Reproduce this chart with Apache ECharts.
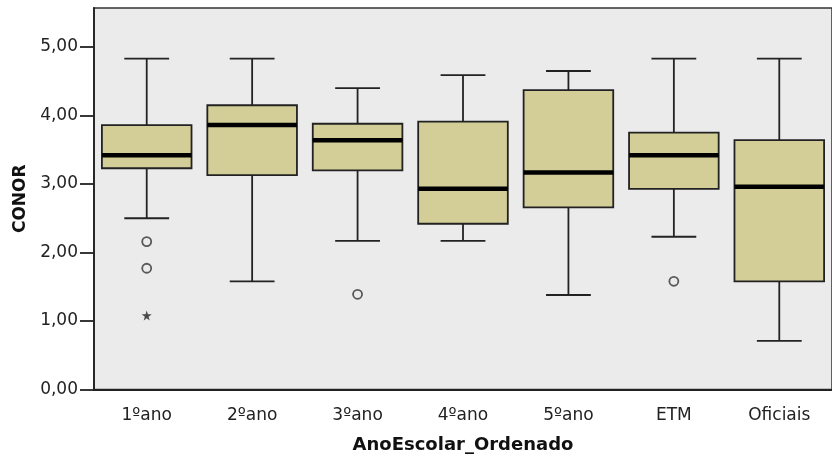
<!DOCTYPE html>
<html><head><meta charset="utf-8">
<script src="https://cdn.jsdelivr.net/npm/echarts@6/dist/echarts.min.js"></script>
<style>html,body{margin:0;padding:0;background:#fff}#c{width:832px;height:460px}</style>
</head><body><div id="c"></div>
<script>
const categories = ['1ºano','2ºano','3ºano','4ºano','5ºano','ETM','Oficiais'];
const lowerWhisker = [2.50, 1.58, 2.17, 2.17, 1.38, 2.23, 0.71];
const q1 =           [3.23, 3.13, 3.20, 2.42, 2.66, 2.93, 1.58];
const median =       [3.42, 3.86, 3.64, 2.93, 3.17, 3.42, 2.96];
const q3 =           [3.86, 4.15, 3.88, 3.91, 4.37, 3.75, 3.64];
const upperWhisker = [4.83, 4.83, 4.40, 4.59, 4.65, 4.83, 4.83];
const outliers = [[0, 2.16], [0, 1.77], [2, 1.39], [5, 1.58]];
const extremes = [[0, 1.08]];
const yTicks = [0, 1, 2, 3, 4, 5];

const boxData = categories.map((c, i) => [i, lowerWhisker[i], q1[i], median[i], q3[i], upperWhisker[i]]);

const LINE = '#222';
function renderBox(params, api) {
  const i = api.value(0);
  const band = api.size([1, 0])[0];
  const bw = band * 0.85, cw = bw * 0.5;
  const lo = api.coord([i, api.value(1)]);
  const b1 = api.coord([i, api.value(2)]);
  const md = api.coord([i, api.value(3)]);
  const b3 = api.coord([i, api.value(4)]);
  const hi = api.coord([i, api.value(5)]);
  const x = lo[0];
  const ls = {stroke: LINE, lineWidth: 1.8};
  return {type: 'group', children: [
    {type: 'line', shape: {x1: x, y1: hi[1], x2: x, y2: b3[1]}, style: ls},
    {type: 'line', shape: {x1: x, y1: b1[1], x2: x, y2: lo[1]}, style: ls},
    {type: 'line', shape: {x1: x - cw / 2, y1: hi[1], x2: x + cw / 2, y2: hi[1]}, style: ls},
    {type: 'line', shape: {x1: x - cw / 2, y1: lo[1], x2: x + cw / 2, y2: lo[1]}, style: ls},
    {type: 'rect', shape: {x: x - bw / 2, y: b3[1], width: bw, height: b1[1] - b3[1]},
      style: {fill: '#D3CE97', stroke: LINE, lineWidth: 1.8}},
    {type: 'line', shape: {x1: x - bw / 2, y1: md[1], x2: x + bw / 2, y2: md[1]},
      style: {stroke: '#000', lineWidth: 4.5}}
  ]};
}

const chart = echarts.init(document.getElementById('c'), null, {renderer: 'canvas'});
chart.setOption({
  animation: false,
  backgroundColor: '#fff',
  grid: {left: 94, top: 8, width: 744, height: 381.5, show: true,
    backgroundColor: '#EBEBEB', borderColor: '#333', borderWidth: 1.5},
  xAxis: {
    type: 'category', data: categories, boundaryGap: true,
    name: 'AnoEscolar_Ordenado', nameLocation: 'middle', nameGap: 47,
    nameTextStyle: {fontFamily: 'DejaVu Sans', fontWeight: 'bold', fontSize: 18, color: '#111'},
    axisLine: {lineStyle: {color: LINE, width: 1.8}},
    axisTick: {alignWithLabel: true, length: 11, lineStyle: {color: LINE, width: 1.8}},
    axisLabel: {fontFamily: 'DejaVu Sans', fontSize: 17, color: '#222', margin: 18},
    splitLine: {show: false}
  },
  yAxis: {
    type: 'value', min: 0, max: 5.57,
    name: 'CONOR', nameLocation: 'middle', nameGap: 64, nameRotate: 90,
    nameTextStyle: {fontFamily: 'DejaVu Sans', fontWeight: 'bold', fontSize: 17, color: '#111'},
    axisLine: {show: true, lineStyle: {color: LINE, width: 1.8}},
    axisTick: {show: true, length: 14, customValues: yTicks, lineStyle: {color: LINE, width: 1.8}},
    axisLabel: {fontFamily: 'DejaVu Sans', fontSize: 17, color: '#222', margin: 16,
      customValues: yTicks, formatter: v => v.toFixed(2).replace('.', ',')},
    splitLine: {show: false}
  },
  series: [
    {type: 'custom', renderItem: renderBox, data: boxData, encode: {x: 0, y: [1, 2, 3, 4, 5]}, z: 2},
    {type: 'scatter', data: outliers, symbol: 'circle', symbolSize: 9, z: 3,
      itemStyle: {color: 'rgba(0,0,0,0)', borderColor: '#333', borderWidth: 1.8}},
    {type: 'scatter', data: extremes, z: 3,
      symbol: 'path://M50,0 L61,35 L98,35 L68,57 L79,91 L50,70 L21,91 L32,57 L2,35 L39,35 Z',
      symbolSize: 10, itemStyle: {color: '#222'}}
  ]
});
</script></body></html>
